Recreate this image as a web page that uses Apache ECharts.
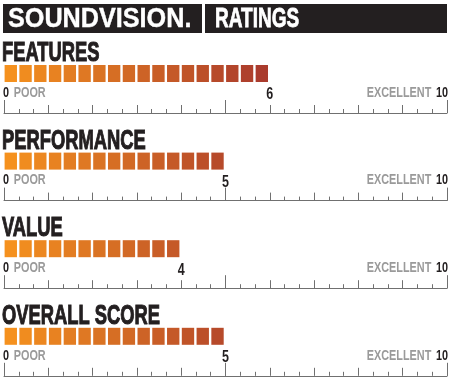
<!DOCTYPE html>
<html><head><meta charset="utf-8">
<script src="https://cdn.jsdelivr.net/npm/echarts@6/dist/echarts.min.js"></script>
<style>html,body{margin:0;padding:0;background:#fff}#c{width:450px;height:380px}</style>
</head><body><div id="c"></div>
<script>
// ---- data ----
const brand = 'SOUNDVISION.';
const heading = 'RATINGS';
const categories = ['FEATURES', 'PERFORMANCE', 'VALUE', 'OVERALL SCORE'];
const scores = [6, 5, 4, 5];
const scaleMin = 0;
const scaleMax = 10;
const lowLabel = 'POOR';
const highLabel = 'EXCELLENT';
const segmentsPerUnit = 3;

// ---- layout / style ----
const FONT = '"Liberation Sans", Arial, sans-serif';
const INK = '#231f20';
const panelTop = 40, panelStep = 87.6;
const gridLeft = 4, gridRight = 3;
const barTopOff = 25, barH = 17, axisOff = 73;
const c0 = [247, 148, 30], c1 = [168, 56, 45];
function segColor(t) {
  const k = Math.min(1, Math.max(0, t / 6));
  const c = c0.map((v, i) => Math.round(v + (c1[i] - v) * k));
  return 'rgb(' + c.join(',') + ')';
}
const smallRich = {
  b: { fontFamily: FONT, fontWeight: 'bold', fontSize: 15.5, fill: INK, color: INK },
  g: { fontFamily: FONT, fontWeight: 'bold', fontSize: 15.5, fill: '#9a9a9a', color: '#9a9a9a' }
};

const chart = echarts.init(document.getElementById('c'));
const grids = [], xAxes = [], yAxes = [], series = [], graphics = [];
graphics.push(
  { type: 'rect', shape: { x: 3, y: 4, width: 199, height: 29 }, style: { fill: INK } },
  { type: 'rect', shape: { x: 205, y: 4, width: 242, height: 29 }, style: { fill: INK } },
  { type: 'text', x: 8, y: 19, scaleX: 0.9, style: { text: brand, fill: '#fff', fontFamily: FONT,
    fontWeight: 'bold', fontSize: 28, verticalAlign: 'middle', stroke: '#fff', lineWidth: 0.4 } },
  { type: 'text', x: 215, y: 19, scaleX: 0.68, style: { text: heading, fill: '#fff', fontFamily: FONT,
    fontWeight: 'bold', fontSize: 28, verticalAlign: 'middle', stroke: '#fff', lineWidth: 0.8 } }
);
categories.forEach((name, p) => {
  const off = panelTop + p * panelStep;
  graphics.push({
    type: 'text', x: 2, y: off + 13.5, scaleX: 0.655,
    style: { text: name, fontFamily: FONT, fontWeight: 'bold', fontSize: 28, fill: INK,
      verticalAlign: 'middle', stroke: INK, lineWidth: 1.1 }
  });
  grids.push({ left: gridLeft, right: gridRight, top: off + barTopOff, height: axisOff - barTopOff });
  xAxes.push({
    gridIndex: p, type: 'value', min: scaleMin, max: scaleMax, interval: 1, position: 'bottom',
    axisLine: { show: true, lineStyle: { color: '#707070', width: 1 } },
    axisTick: { show: true, inside: true, length: 8, lineStyle: { color: '#707070' } },
    minorTick: { show: true, splitNumber: segmentsPerUnit, length: 4, lineStyle: { color: '#707070' } },
    axisLabel: { show: false }, splitLine: { show: false }
  });
  xAxes.push({
    gridIndex: p, type: 'value', min: scaleMin, max: scaleMax, interval: 5, position: 'bottom',
    axisLine: { show: false },
    axisTick: { show: true, inside: true, length: 13, lineStyle: { color: '#707070' } },
    splitLine: { show: false }, axisLabel: { show: false }
  });
  yAxes.push({ gridIndex: p, type: 'value', min: 0, max: 1, show: false });
  series.push({
    type: 'custom', xAxisIndex: p * 2, yAxisIndex: p,
    data: [[scores[p]]],
    renderItem: (params, api) => {
      const v = api.value(0);
      const cs = params.coordSys;
      const n = Math.round(v * segmentsPerUnit);
      const children = [];
      for (let i = 0; i < n; i++) {
        const a = api.coord([i / segmentsPerUnit, 0])[0];
        const b = api.coord([(i + 1) / segmentsPerUnit, 0])[0];
        children.push({
          type: 'rect',
          shape: { x: a + 0.6, y: cs.y, width: b - a - 2.4, height: barH },
          style: { fill: segColor((i + 0.5) / segmentsPerUnit) }
        });
      }
      const xv = api.coord([v, 0])[0];
      const x0 = api.coord([scaleMin, 0])[0];
      const x1 = api.coord([scaleMax, 0])[0];
      children.push({
        type: 'text', x: xv, y: cs.y + 38, scaleX: 0.78,
        style: { text: String(v), fontFamily: FONT, fontWeight: 'bold', fontSize: 16,
          fill: INK, align: 'center', verticalAlign: 'bottom' }
      });
      children.push({
        type: 'text', x: x0 - 1, y: cs.y + 27.5, scaleX: 0.7,
        style: { text: '{b|' + scaleMin + '}  {g|' + lowLabel + '}', rich: smallRich,
          align: 'left', verticalAlign: 'middle' }
      });
      children.push({
        type: 'text', x: x1 + 1, y: cs.y + 27.5, scaleX: 0.7,
        style: { text: '{g|' + highLabel + '}  {b|' + scaleMax + '}', rich: smallRich,
          align: 'right', verticalAlign: 'middle' }
      });
      return { type: 'group', children };
    }
  });
});

chart.setOption({
  animation: false,
  grid: grids, xAxis: xAxes, yAxis: yAxes, series,
  graphic: graphics
});
</script></body></html>
